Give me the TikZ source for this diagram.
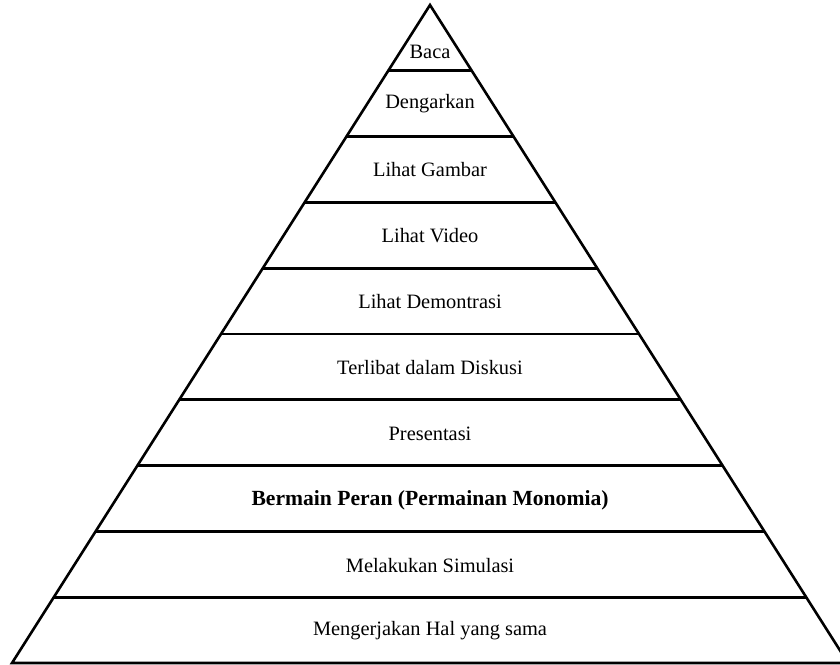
\documentclass[tikz,border=0pt]{standalone}
\usepackage{fontspec}
\setmainfont{Liberation Serif}
\usetikzlibrary{positioning, calc}

\begin{document}
\begin{tikzpicture}[
    x=0.5pt, y=-0.5pt,
    edge/.style={draw, line width=1.3pt, line join=miter},
    level/.style={font=\fontsize{10.2}{12}\selectfont, align=center, inner sep=1pt}
]
    \useasboundingbox (0,0) rectangle (840,664);

    \coordinate (apex) at (430,5);
    \coordinate (bl) at (12,663);
    \coordinate (br) at (848,663);

    \draw[edge] (bl) -- (apex) -- (br) -- cycle;

    % dividing lines between the levels
    \foreach \i in {1,...,9}
        \draw[edge] ($(apex)!\i/10!(bl)$) -- ($(apex)!\i/10!(br)$);

    \node[level] (l1) at (430,52) {Baca};
    \node[level] (l2) at (430,104) {Dengarkan};
    \node[level] (l3) at (430,170) {Lihat Gambar};
    \node[level] (l4) at (430,236) {Lihat Video};
    \node[level] (l5) at (430,302) {Lihat Demontrasi};
    \node[level] (l6) at (430,368) {Terlibat dalam Diskusi};
    \node[level] (l7) at (430,434) {Presentasi};
    \node[level, font=\fontsize{10.8}{12}\selectfont\bfseries] (l8) at (430,500) {Bermain Peran (Permainan Monomia)};
    \node[level] (l9) at (430,566) {Melakukan Simulasi};
    \node[level] (l10) at (430,631) {Mengerjakan Hal yang sama};
\end{tikzpicture}
\end{document}
